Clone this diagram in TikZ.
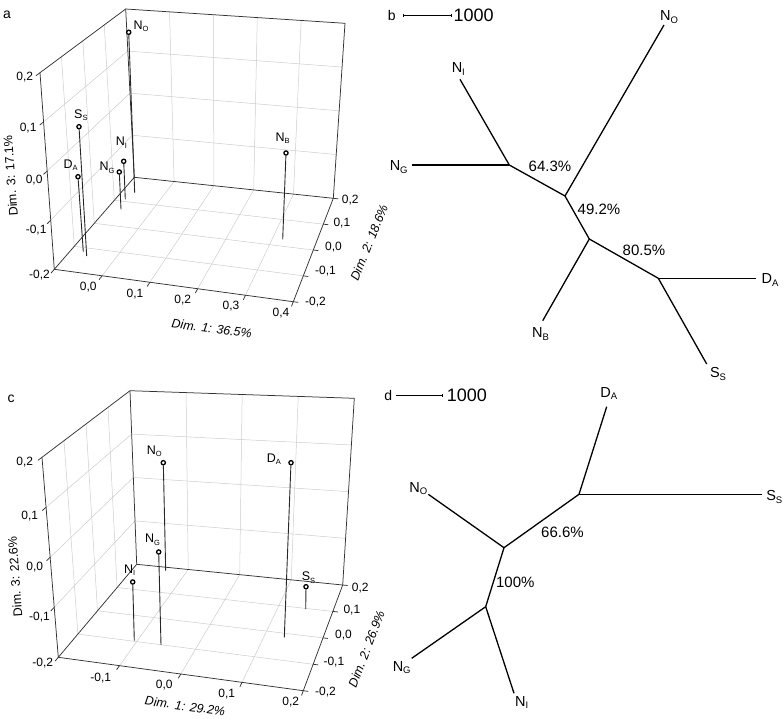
\documentclass[tikz,border=0pt]{standalone}
\usepackage{fontspec}
\setmainfont{Liberation Sans}
\usetikzlibrary{calc}
\newcommand\plab[2]{#1\raisebox{-0.35ex}{\fontsize{7.5}{8}\selectfont #2}}
\newcommand\tlab[2]{#1\raisebox{-0.3ex}{\fontsize{9.5}{10}\selectfont #2}}
\tikzset{
  gridline/.style={draw=gray!40, line width=0.5pt},
  frame/.style={draw=black!80, line width=0.75pt},
  stem/.style={draw=black!85, line width=0.9pt},
  ptdot/.style={circle, draw=black, fill=white, line width=1.3pt, inner sep=0pt, minimum size=4.2pt},
  ptlabel/.style={anchor=base west, inner sep=0pt, font=\fontsize{12.5}{13}\selectfont},
  ticklab/.style={inner sep=0pt, font=\fontsize{12}{12}\selectfont},
  axtitle/.style={inner sep=0pt, font=\fontsize{12.5}{13}\selectfont},
  panellab/.style={inner sep=0pt, font=\fontsize{14}{14}\selectfont},
  branch/.style={draw=black, line width=1.3pt},
  treelab/.style={inner sep=0pt, font=\fontsize{14.5}{15}\selectfont},
  pct/.style={inner sep=0pt, font=\fontsize{15}{15}\selectfont},
  scalebar/.style={draw=black, line width=1pt},
  scalelab/.style={inner sep=0pt, anchor=west, font=\fontsize{18}{18}\selectfont},
}
\begin{document}
\begin{tikzpicture}[x=1pt,y=-1pt]
\useasboundingbox (0,0) rectangle (784,718);

%%%%%%%%%%%%%%%% PANEL A %%%%%%%%%%%%%%%%
\coordinate (aLFb) at (54.3,269.3);
\coordinate (aLFt) at (40,72.7);
\coordinate (aLBb) at (134.3,177.3);
\coordinate (aLBt) at (125.7,9);
\coordinate (aRBb) at (333.3,198.3);
\coordinate (aRBt) at (345,23.3);
\coordinate (aRF) at (293.3,301.7);
% grid
\foreach \t in {0.2,0.4,0.6,0.8}{
  \draw[gridline] ($(aLFb)!\t!(aRF)$) -- ($(aLBb)!\t!(aRBb)$);
  \draw[gridline] ($(aLBb)!\t!(aRBb)$) -- ($(aLBt)!\t!(aRBt)$);
}
\foreach \s in {0.25,0.5,0.75}{
  \draw[gridline] ($(aLFb)!\s!(aLBb)$) -- ($(aRF)!\s!(aRBb)$);
  \draw[gridline] ($(aLFb)!\s!(aLBb)$) -- ($(aLFt)!\s!(aLBt)$);
  \draw[gridline] ($(aLFb)!\s!(aLFt)$) -- ($(aLBb)!\s!(aLBt)$);
  \draw[gridline] ($(aLBb)!\s!(aLBt)$) -- ($(aRBb)!\s!(aRBt)$);
}
% frame
\draw[frame] (aLFt) -- (aLFb) -- (aRF) -- (aRBb) -- (aRBt) -- (aLBt) -- (aLFt);
\draw[frame] (aLBt) -- (aLBb) -- (aRBb);
\draw[frame] (aLFb) -- (aLBb);
% ticks
\foreach \u in {0,0.25,0.5,0.75,1}{
  \coordinate (p) at ($(aLFb)!\u!(aLFt)$);
  \coordinate (q) at ($(aLBb)!\u!(aLBt)$);
  \draw[frame] (p) -- ($(p)!-5pt!(q)$);
  \coordinate (p2) at ($(aRF)!\u!(aRBb)$);
  \coordinate (q2) at ($(aLFb)!\u!(aLBb)$);
  \draw[frame] (p2) -- ($(p2)!-5pt!(q2)$);
}
\foreach \t in {0.2,0.4,0.6,0.8,1}{
  \coordinate (p) at ($(aLFb)!\t!(aRF)$);
  \coordinate (q) at ($(aLBb)!\t!(aRBb)$);
  \draw[frame] (p) -- ($(p)!-5pt!(q)$);
}
% tick labels
\node[ticklab, anchor=east] (a3t1) at (33.3,77.3) {0,2};
\node[ticklab, anchor=east] (a3t2) at (36.7,128.3) {0,1};
\node[ticklab, anchor=east] (a3t3) at (42.7,180) {0,0};
\node[ticklab, anchor=east] (a3t4) at (46.7,230) {-0,1};
\node[ticklab, anchor=east] (a3t5) at (50,275) {-0,2};
\node[ticklab] (a1t1) at (88.3,287.5) {0,0};
\node[ticklab] (a1t2) at (135,294) {0,1};
\node[ticklab] (a1t3) at (182.8,300) {0,2};
\node[ticklab] (a1t4) at (231,306) {0,3};
\node[ticklab] (a1t5) at (281,313) {0,4};
\node[ticklab, anchor=west] (a2t1) at (341.7,200) {0,2};
\node[ticklab, anchor=west] (a2t2) at (333.3,222.7) {0,1};
\node[ticklab, anchor=west] (a2t3) at (325,246.7) {0,0};
\node[ticklab, anchor=west] (a2t4) at (315,270.7) {-0,1};
\node[ticklab, anchor=west] (a2t5) at (305,301.7) {-0,2};
% axis titles
\node[axtitle, rotate=94] (a3title) at (10.5,175.8) {Dim. 3: 17.1\%};
\node[axtitle, rotate=-7.7, font=\fontsize{12.5}{13}\selectfont\itshape] (a1title) at (211.7,328.5) {Dim. 1: 36.5\%};
\node[axtitle, rotate=68, font=\fontsize{12.5}{13}\selectfont\itshape] (a2title) at (369,242.5) {Dim. 2: 18.6\%};
% data points
\node[ptdot] (aNO) at (128.7,32.3) {};
\coordinate (aNOb) at (134.7,192.7);
\node[ptdot] (aSS) at (79,126.7) {};
\coordinate (aSSb) at (86.7,256);
\node[ptdot] (aDA) at (78,176.7) {};
\coordinate (aDAb) at (83.3,251.7);
\node[ptdot] (aNG) at (119.3,172) {};
\coordinate (aNGb) at (121,209.3);
\node[ptdot] (aNI) at (123.7,161.3) {};
\coordinate (aNIb) at (125.3,199.3);
\node[ptdot] (aNB) at (286,153) {};
\coordinate (aNBb) at (282.7,239.3);
\foreach \n in {NO,SS,DA,NG,NI,NB}{\draw[stem] (a\n) -- (a\n b);}
\node[ptlabel] (aNOl) at (133.3,29.3) {\plab{N}{O}};
\node[ptlabel] (aSSl) at (74,118.3) {\plab{S}{S}};
\node[ptlabel] (aDAl) at (63.3,168.3) {\plab{D}{A}};
\node[ptlabel] (aNGl) at (99.3,170.7) {\plab{N}{G}};
\node[ptlabel] (aNIl) at (115.7,145.7) {\plab{N}{I}};
\node[ptlabel] (aNBl) at (275.3,141) {\plab{N}{B}};
\node[panellab] (alab) at (7,15) {a};

%%%%%%%%%%%%%%%% PANEL C %%%%%%%%%%%%%%%%
\coordinate (cLFb) at (58.3,657.3);
\coordinate (cLFt) at (42,457.3);
\coordinate (cLBb) at (136.7,564.3);
\coordinate (cLBt) at (130,390.7);
\coordinate (cRBb) at (342.7,585);
\coordinate (cRBt) at (354.3,398.3);
\coordinate (cRF) at (303.3,690.7);
\foreach \s in {0.25,0.5,0.75}{
  \draw[gridline] ($(cLFb)!\s!(cRF)$) -- ($(cLBb)!\s!(cRBb)$);
  \draw[gridline] ($(cLBb)!\s!(cRBb)$) -- ($(cLBt)!\s!(cRBt)$);
  \draw[gridline] ($(cLFb)!\s!(cLBb)$) -- ($(cRF)!\s!(cRBb)$);
  \draw[gridline] ($(cLFb)!\s!(cLBb)$) -- ($(cLFt)!\s!(cLBt)$);
  \draw[gridline] ($(cLFb)!\s!(cLFt)$) -- ($(cLBb)!\s!(cLBt)$);
  \draw[gridline] ($(cLBb)!\s!(cLBt)$) -- ($(cRBb)!\s!(cRBt)$);
}
\draw[frame] (cLFt) -- (cLFb) -- (cRF) -- (cRBb) -- (cRBt) -- (cLBt) -- (cLFt);
\draw[frame] (cLBt) -- (cLBb) -- (cRBb);
\draw[frame] (cLFb) -- (cLBb);
\foreach \u in {0,0.25,0.5,0.75,1}{
  \coordinate (p) at ($(cLFb)!\u!(cLFt)$);
  \coordinate (q) at ($(cLBb)!\u!(cLBt)$);
  \draw[frame] (p) -- ($(p)!-5pt!(q)$);
  \coordinate (p2) at ($(cRF)!\u!(cRBb)$);
  \coordinate (q2) at ($(cLFb)!\u!(cLBb)$);
  \draw[frame] (p2) -- ($(p2)!-5pt!(q2)$);
}
\foreach \t in {0.25,0.5,0.75,1}{
  \coordinate (p) at ($(cLFb)!\t!(cRF)$);
  \coordinate (q) at ($(cLBb)!\t!(cRBb)$);
  \draw[frame] (p) -- ($(p)!-5pt!(q)$);
}
\node[ticklab, anchor=east] (c3t1) at (33.3,461.7) {0,2};
\node[ticklab, anchor=east] (c3t2) at (38.3,515.7) {0,1};
\node[ticklab, anchor=east] (c3t3) at (43.3,566.7) {0,0};
\node[ticklab, anchor=east] (c3t4) at (50,616.7) {-0,1};
\node[ticklab, anchor=east] (c3t5) at (53.3,663.3) {-0,2};
\node[ticklab] (c1t1) at (100.8,678.3) {-0,1};
\node[ticklab] (c1t2) at (164.2,685) {0,0};
\node[ticklab] (c1t3) at (226.7,694) {0,1};
\node[ticklab] (c1t4) at (290.8,702.3) {0,2};
\node[ticklab, anchor=west] (c2t1) at (351.7,588.3) {0,2};
\node[ticklab, anchor=west] (c2t2) at (343.3,610) {0,1};
\node[ticklab, anchor=west] (c2t3) at (335,635) {0,0};
\node[ticklab, anchor=west] (c2t4) at (323.3,661.7) {-0,1};
\node[ticklab, anchor=west] (c2t5) at (315,691.7) {-0,2};
\node[axtitle, rotate=94] (c3title) at (15,576.7) {Dim. 3: 22.6\%};
\node[axtitle, rotate=-7.8, font=\fontsize{12.5}{13}\selectfont\itshape] (c1title) at (185,706) {Dim. 1: 29.2\%};
\node[axtitle, rotate=69, font=\fontsize{12.5}{13}\selectfont\itshape] (c2title) at (366.5,649) {Dim. 2: 26.9\%};
\node[ptdot] (cNO) at (163.3,462.7) {};
\coordinate (cNOb) at (165.7,570.7);
\node[ptdot] (cNG) at (158.7,552) {};
\coordinate (cNGb) at (161,645);
\node[ptdot] (cNI) at (132.7,582) {};
\coordinate (cNIb) at (134.3,640.7);
\node[ptdot] (cDA) at (291,462.7) {};
\coordinate (cDAb) at (284.3,637.3);
\node[ptdot] (cSS) at (306,586.7) {};
\coordinate (cSSb) at (305.7,609);
\foreach \n in {NO,NG,NI,DA,SS}{\draw[stem] (c\n) -- (c\n b);}
\node[ptlabel] (cNOl) at (146.7,454) {\plab{N}{O}};
\node[ptlabel] (cNGl) at (145,542.7) {\plab{N}{G}};
\node[ptlabel] (cNIl) at (124,573.3) {\plab{N}{I}};
\node[ptlabel] (cDAl) at (266.7,462.3) {\plab{D}{A}};
\node[ptlabel] (cSSl) at (301.7,580.7) {\plab{S}{S}};
\node[panellab] (clab) at (11,398.3) {c};

%%%%%%%%%%%%%%%% PANEL B %%%%%%%%%%%%%%%%
\node[panellab] (blab) at (391.7,15) {b};
\coordinate (bs1) at (403.3,15);
\coordinate (bs2) at (451.7,15);
\draw[scalebar] (bs1) -- (bs2);
\draw[scalebar, line width=0.8pt] ($(bs1)+(0,-1.5)$) -- ($(bs1)+(0,1.5)$);
\draw[scalebar, line width=0.8pt] ($(bs2)+(0,-1.5)$) -- ($(bs2)+(0,1.5)$);
\node[scalelab] (bscale) at (453.3,15.5) {1000};
\coordinate (b1) at (509.3,165);
\coordinate (b2) at (565,196);
\coordinate (b3) at (589.3,239);
\coordinate (b4) at (658.3,278.3);
\coordinate (bNI) at (460,79.3);
\coordinate (bNG) at (411.7,165);
\coordinate (bNO) at (664,25);
\coordinate (bDA) at (755.7,278.3);
\coordinate (bNB) at (542.7,320.7);
\coordinate (bSS) at (706.7,364);
\draw[branch] (bNI) -- (b1);
\draw[branch] (bNG) -- (b1);
\draw[branch] (b1) -- (b2);
\draw[branch] (b2) -- (bNO);
\draw[branch] (b2) -- (b3);
\draw[branch] (b3) -- (bNB);
\draw[branch] (b3) -- (b4);
\draw[branch] (b4) -- (bDA);
\draw[branch] (b4) -- (bSS);
\node[treelab] (bNIl) at (458.3,69) {\tlab{N}{I}};
\node[treelab] (bNGl) at (398.7,167) {\tlab{N}{G}};
\node[treelab] (bNOl) at (669,17) {\tlab{N}{O}};
\node[treelab] (bDAl) at (770,280) {\tlab{D}{A}};
\node[treelab] (bNBl) at (540.5,334) {\tlab{N}{B}};
\node[treelab] (bSSl) at (718,374) {\tlab{S}{S}};
\node[pct] (bp1) at (550,166.7) {64.3\%};
\node[pct] (bp2) at (599,209.3) {49.2\%};
\node[pct] (bp3) at (644,250) {80.5\%};

%%%%%%%%%%%%%%%% PANEL D %%%%%%%%%%%%%%%%
\node[panellab] (dlab) at (388.3,395) {d};
\coordinate (ds1) at (396,395);
\coordinate (ds2) at (442.7,395);
\draw[scalebar] (ds1) -- (ds2);
\draw[scalebar, line width=0.8pt] ($(ds2)+(0,-1.5)$) -- ($(ds2)+(0,1.5)$);
\node[scalelab] (dscale) at (446.7,395.5) {1000};
\coordinate (d1) at (579,494.3);
\coordinate (d2) at (504,547.7);
\coordinate (d3) at (485.7,606.7);
\coordinate (dDA) at (606.7,406.7);
\coordinate (dSS) at (761.7,494.3);
\coordinate (dNO) at (428.3,494.3);
\coordinate (dNG) at (411.7,658.3);
\coordinate (dNI) at (514,693.3);
\draw[branch] (dDA) -- (d1);
\draw[branch] (dSS) -- (d1);
\draw[branch] (d1) -- (d2);
\draw[branch] (d2) -- (dNO);
\draw[branch] (d2) -- (d3);
\draw[branch] (d3) -- (dNG);
\draw[branch] (d3) -- (dNI);
\node[treelab] (dDAl) at (608.7,393.7) {\tlab{D}{A}};
\node[treelab] (dSSl) at (774.3,497) {\tlab{S}{S}};
\node[treelab] (dNOl) at (418.3,488.3) {\tlab{N}{O}};
\node[treelab] (dNGl) at (401.7,667.3) {\tlab{N}{G}};
\node[treelab] (dNIl) at (521.7,702.3) {\tlab{N}{I}};
\node[pct] (dp1) at (562.5,532.7) {66.6\%};
\node[pct] (dp2) at (515.3,582.7) {100\%};
\end{tikzpicture}
\end{document}
